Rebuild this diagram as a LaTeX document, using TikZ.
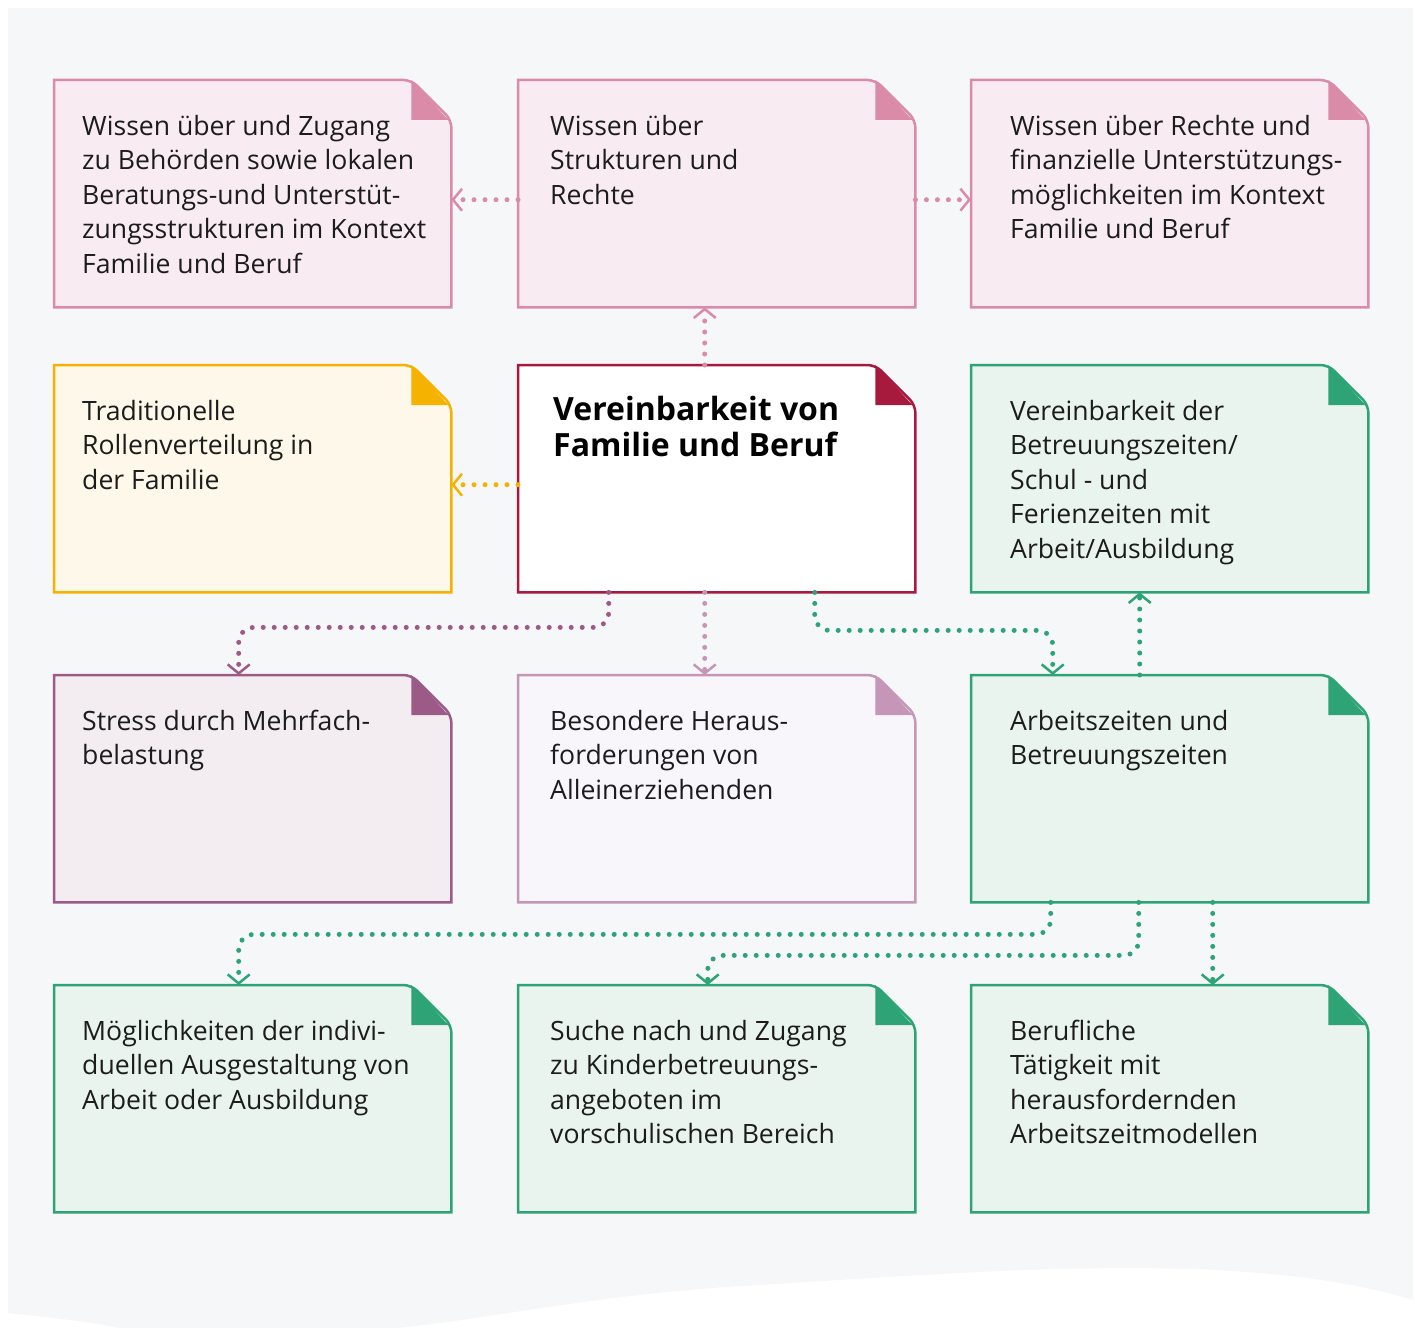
\documentclass[tikz,border=0pt]{standalone}
\usepackage{fontspec}
\setmainfont{Open Sans}
\usepackage{tikz}
\usetikzlibrary{arrows.meta,backgrounds}

\definecolor{grund}{HTML}{F6F7F9}
\definecolor{schrift}{HTML}{1C1C1C}
\definecolor{rosa}{HTML}{D98BA7}
\definecolor{rosafill}{HTML}{F8ECF2}
\definecolor{gelb}{HTML}{F6B200}
\definecolor{gelbfill}{HTML}{FEF8EA}
\definecolor{rot}{HTML}{A71A3E}
\definecolor{rotfill}{HTML}{FFFFFF}
\definecolor{gruen}{HTML}{2EA476}
\definecolor{gruenfill}{HTML}{EAF4EE}
\definecolor{lila}{HTML}{9C5A86}
\definecolor{lilafill}{HTML}{F3EDF2}
\definecolor{mauve}{HTML}{C596B8}
\definecolor{mauvefill}{HTML}{F8F6FA}

% Text im Kasten, optional: Einzug links (Kasten ist 397pt breit, Textblock 380pt zentriert)
\newcommand{\notiz}[2][19.5pt]{\parbox[t][227pt][t]{380pt}{\fontsize{26.6}{34.5}\selectfont\raggedright\leftskip=#1\vspace*{31pt}\strut#2}}

\tikzset{
  kasten/.style={anchor=north west, inner sep=0pt, minimum width=397pt, minimum height=227pt, text=schrift},
  pfeil/.style={line width=5pt, dash pattern=on 0pt off 11pt, line cap=round, rounded corners=15pt,
    -{Straight Barb[length=9pt, width=22pt, line width=2.5pt]}}
}

\begin{document}
\begin{tikzpicture}[x=1pt, y=-1pt]
        \useasboundingbox (0,0) rectangle (1415,1327);
        % erste Reihe
        \node[kasten] (beh) at (54,80) {\notiz{Wissen über und Zugang\\zu Behörden sowie lokalen\\Beratungs-und Unterstüt-\\zungsstrukturen im Kontext\\Familie und Beruf}};
        \node[kasten] (struk) at (518,80) {\notiz[23.5pt]{Wissen über\\Strukturen und\\Rechte}};
        \node[kasten] (recht) at (971,80) {\notiz[30.5pt]{Wissen über Rechte und\\finanzielle Unterstützungs-\\möglichkeiten im Kontext\\Familie und Beruf}};
        % zweite Reihe
        \node[kasten] (rolle) at (54,365) {\notiz{Traditionelle\\Rollenverteilung in\\der Familie}};
        \node[kasten, text=black] (ziel) at (518,365) {\notiz[26.5pt]{\fontsize{32}{34.5}\selectfont\bfseries Vereinbarkeit von\\Familie und Beruf}};
        \node[kasten] (zeit1) at (971,365) {\notiz[30.5pt]{Vereinbarkeit der\\Betreuungszeiten/\\Schul - und\\Ferienzeiten mit\\Arbeit/Ausbildung}};
        % dritte Reihe
        \node[kasten] (stress) at (54,675) {\notiz{Stress durch Mehrfach-\\belastung}};
        \node[kasten] (allein) at (518,675) {\notiz[23.5pt]{Besondere Heraus-\\forderungen von\\Alleinerziehenden}};
        \node[kasten] (arbeit) at (971,675) {\notiz[30.5pt]{Arbeitszeiten und\\Betreuungszeiten}};
        % vierte Reihe
        \node[kasten] (ausg) at (54,985) {\notiz{Möglichkeiten der indivi-\\duellen Ausgestaltung von\\Arbeit oder Ausbildung}};
        \node[kasten] (kita) at (518,985) {\notiz[23.5pt]{Suche nach und Zugang\\zu Kinderbetreuungs-\\angeboten im\\vorschulischen Bereich}};
        \node[kasten] (beruf) at (971,985) {\notiz[30.5pt]{Berufliche\\Tätigkeit mit\\herausfordernden\\Arbeitszeitmodellen}};

        \begin{scope}[on background layer]
        \fill[grund] (8,8) -- (1413,8) -- (1413,1300) .. controls (1250,1250) and (1000,1270) .. (760,1285)
            .. controls (560,1295) and (430,1335) .. (330,1330) -- (130,1330) .. controls (90,1322) .. (8,1313) -- cycle;
        \foreach \n/\f/\g in {beh/rosa/rosafill, struk/rosa/rosafill, recht/rosa/rosafill,
            rolle/gelb/gelbfill, ziel/rot/rotfill, zeit1/gruen/gruenfill,
            stress/lila/lilafill, allein/mauve/mauvefill, arbeit/gruen/gruenfill,
            ausg/gruen/gruenfill, kita/gruen/gruenfill, beruf/gruen/gruenfill}{
          \draw[\f, fill=\g, line width=2.5pt] (\n.south west) -- (\n.north west) [rounded corners=8pt]
            -- ([xshift=-40pt]\n.north east) -- ([yshift=-40pt]\n.north east) [sharp corners] -- (\n.south east) -- cycle;
          \fill[\f] ([xshift=-40pt]\n.north east) -- ([xshift=-40pt,yshift=-40pt]\n.north east) -- ([xshift=-3pt,yshift=-40pt]\n.north east) -- cycle;
        }
        \end{scope}

        % Verbindungen
        \draw[pfeil, rosa] ([xshift=-12pt]ziel.north) -- ([xshift=-12pt]struk.south);
        \draw[pfeil, rosa] ([yshift=-6pt]struk.west) -- ([yshift=-6pt]beh.east);
        \draw[pfeil, rosa] ([yshift=-6pt]struk.east) -- ([yshift=-6pt]recht.west);
        \draw[pfeil, gelb] ([yshift=-6pt]ziel.west) -- ([yshift=-6pt]rolle.east);
        \draw[pfeil, lila] ([xshift=-108pt]ziel.south) -- ++(0,35) -| ([xshift=-14pt]stress.north);
        \draw[pfeil, mauve] ([xshift=-12pt]ziel.south) -- ([xshift=-12pt]allein.north);
        \draw[pfeil, gruen] ([xshift=98pt]ziel.south) -- ++(0,38) -| ([xshift=-117pt]arbeit.north);
        \draw[pfeil, gruen] ([xshift=-30pt]arbeit.north) -- ([xshift=-30pt]zeit1.south);
        \draw[pfeil, gruen] ([xshift=-119pt]arbeit.south) -- ++(0,32) -| ([xshift=-14pt]ausg.north);
        \draw[pfeil, gruen] ([xshift=-31pt]arbeit.south) -- ++(0,53) -| ([xshift=-9pt]kita.north);
        \draw[pfeil, gruen] ([xshift=43pt]arbeit.south) -- ([xshift=43pt]beruf.north);
    \end{tikzpicture}
\end{document}
